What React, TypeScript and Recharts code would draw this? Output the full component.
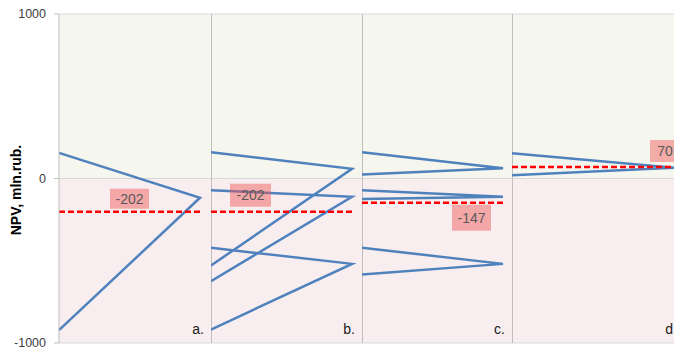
import { LineChart, Line, XAxis, YAxis, CartesianGrid } from "recharts";

// NPV traces per scenario: [start, turning point, end]
const tracesA = [[156, -117, -922]];
const tracesB = [
  [160, 59, -529],
  [-71, -111, -624],
  [-421, -519, -918],
];
const tracesC = [
  [160, 63, 24],
  [-71, -111, -124],
  [-421, -519, -584],
];
const tracesD = [[154, 65, 20]];

const panelTraces = [tracesA, tracesB, tracesC, tracesD];
const panelLetters = ["a.", "b.", "c.", "d."];
const meanValues = [-202, -202, -147, 70];
const yTicks = [-1000, 0, 1000];
// each trace runs left -> right -> left
const xSteps = [0, 1, 0];

const FONT = "'Liberation Sans', Arial, sans-serif";
const BLUE = "#4f81bd";

interface BoxStyle {
  dx: number;
  dy: number;
  w: number;
  h: number;
}

interface PanelLayout {
  left: number;
  width: number;
  axisWidth: number;
  xMax: number;
  box: BoxStyle;
  letterX: number;
}

const layout: PanelLayout[] = [
  { left: 0, width: 211, axisWidth: 59, xMax: 152 / 141, box: { dx: -90, dy: -23, w: 39, h: 20 }, letterX: 204 },
  { left: 211, width: 151, axisWidth: 0, xMax: 151 / 141, box: { dx: -122, dy: -28, w: 41, h: 23 }, letterX: 144 },
  { left: 362, width: 150, axisWidth: 0, xMax: 150 / 141, box: { dx: -51, dy: 2, w: 39, h: 26 }, letterX: 143 },
  { left: 512, width: 176, axisWidth: 0, xMax: 176 / 163, box: { dx: -25, dy: -27, w: 30, h: 22 }, letterX: 165 },
];

const CHART_H = 351;
const MARGIN = { top: 14, right: 0, bottom: 8, left: 0 };
const PLOT_H = CHART_H - MARGIN.top - MARGIN.bottom;
// grid rows at 1000, 0 and -1000 (pixel rows of the plot area)
const gridRows = [MARGIN.top, MARGIN.top + PLOT_H / 2, MARGIN.top + PLOT_H];

const meanDot = (box: BoxStyle, value: number) => (p: any) => {
  if (p.index !== 1) return <g key={`m-${p.index}`} />;
  const x = p.cx + box.dx;
  const y = p.cy + box.dy;
  return (
    <g key="m-box">
      <rect x={x} y={y} width={box.w} height={box.h} fill="#f05050" fillOpacity={0.45} />
      <text
        x={x + box.w / 2}
        y={y + box.h / 2}
        textAnchor="middle"
        dominantBaseline="central"
        fontFamily={FONT}
        fontSize={14}
        fill="#595959"
      >
        {value}
      </text>
    </g>
  );
};

function Panel({ idx }: { idx: number }) {
  const l = layout[idx];
  const mean = meanValues[idx];
  const meanData = [
    { x: 0, y: mean },
    { x: 1, y: mean },
  ];
  const first = idx === 0;

  return (
    <div style={{ position: "absolute", left: l.left, top: 0 }}>
      <LineChart width={l.width} height={CHART_H} margin={MARGIN}>
        <CartesianGrid
          vertical={!first}
          verticalPoints={[0.5]}
          stroke="#d9d9d9"
          horizontalPoints={gridRows}
          horizontalFill={["#f5f6ee", "#f8eeef"]}
          fillOpacity={1}
        />
        {!first && (
          <line x1={0.5} y1={MARGIN.top} x2={0.5} y2={MARGIN.top + PLOT_H} stroke="#bfbfbf" />
        )}
        <XAxis type="number" dataKey="x" domain={[0, l.xMax]} hide />
        <YAxis
          type="number"
          domain={[-1000, 1000]}
          ticks={yTicks}
          width={l.axisWidth}
          axisLine={{ stroke: "#bfbfbf" }}
          tickLine={first ? { stroke: "#bfbfbf" } : false}
          tick={first ? { fontFamily: FONT, fontSize: 12.5, fill: "#404040" } : false}
          tickSize={5}
          tickMargin={8}
        />
        {panelTraces[idx].map((t, i) => (
          <Line
            key={`t-${i}`}
            data={t.map((v, j) => ({ x: xSteps[j], y: v }))}
            dataKey="y"
            stroke={BLUE}
            strokeWidth={2.5}
            dot={false}
            activeDot={false}
            isAnimationActive={false}
          />
        ))}
        <Line
          data={meanData}
          dataKey="y"
          stroke="#ff0000"
          strokeWidth={2.5}
          strokeDasharray="6 3"
          dot={meanDot(l.box, mean)}
          activeDot={false}
          isAnimationActive={false}
        />
        <text
          x={l.letterX}
          y={334}
          textAnchor="end"
          fontFamily={FONT}
          fontSize={14}
          fill="#1a1a1a"
        >
          {panelLetters[idx]}
        </text>
        {first && (
          <text
            x={21}
            y={190}
            transform="rotate(-90 21 190)"
            textAnchor="middle"
            fontFamily={FONT}
            fontSize={14}
            fontWeight="bold"
            fill="#000"
          >
            NPV, mln.rub.
          </text>
        )}
      </LineChart>
    </div>
  );
}

export default function App() {
  return (
    <div
      style={{
        position: "absolute",
        left: 0,
        top: 0,
        width: 674,
        height: CHART_H,
        overflow: "hidden",
        background: "#fff",
      }}
    >
      {layout.map((_, i) => (
        <Panel key={i} idx={i} />
      ))}
    </div>
  );
}
